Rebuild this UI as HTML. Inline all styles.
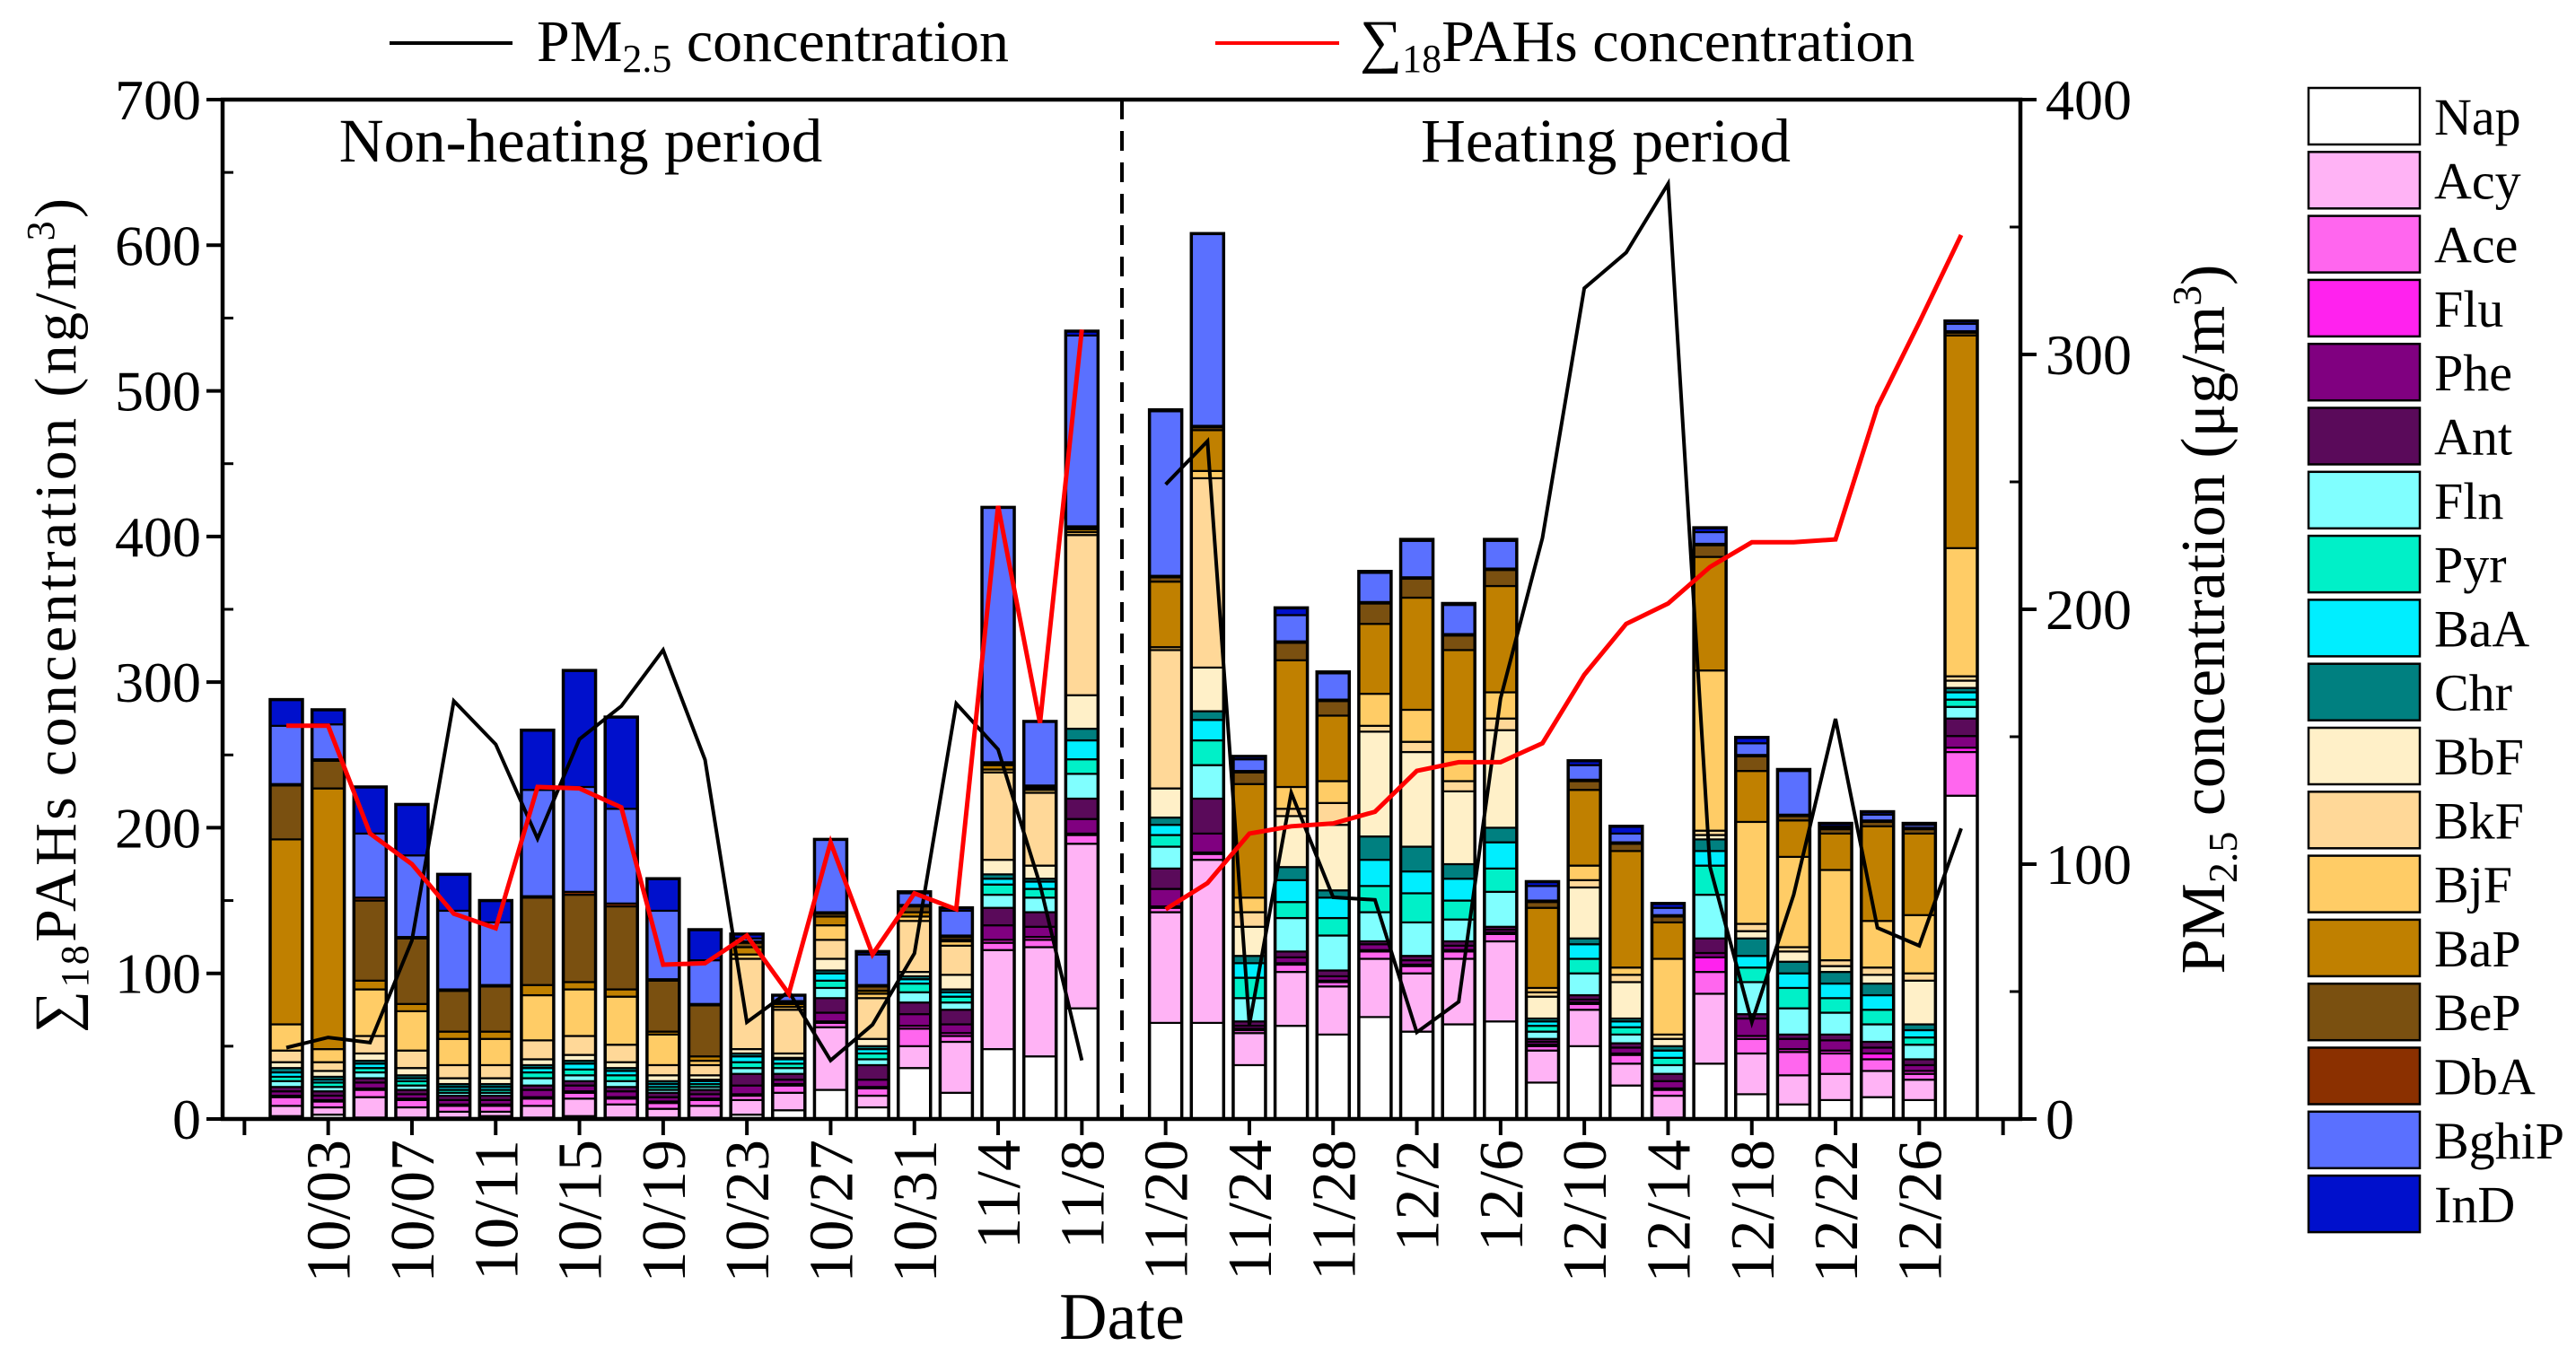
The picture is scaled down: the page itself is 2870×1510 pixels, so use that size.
<!DOCTYPE html>
<html><head><meta charset="utf-8"><style>
html,body{margin:0;padding:0;background:#fff}
svg{display:block}
text{font-family:"Liberation Serif",serif;fill:#000}
</style></head><body>
<svg id="chart" width="2870" height="1510" viewBox="0 0 2870 1510" xmlns="http://www.w3.org/2000/svg">
<g id="bars"></g>
<g id="lines"></g>
<g id="axes"></g>
<g id="legend"></g>
</svg>
<script>
const species=["Nap","Acy","Ace","Flu","Phe","Ant","Fln","Pyr","BaA","Chr","BbF","BkF","BjF","BaP","BeP","DbA","BghiP","InD"];
const speciesColors=["#ffffff","#ffb3f5","#ff66ee","#ff22ee","#800080","#5a0a5a","#80ffff","#00f0c8","#00eeff","#008080","#fff0c8","#ffd898","#ffcc66","#c08000","#7a5010","#8b3000","#5a70ff","#0010cc"];
const dateLabels=["10/03","10/07","10/11","10/15","10/19","10/23","10/27","10/31","11/4","11/8","11/20","11/24","11/28","12/2","12/6","12/10","12/14","12/18","12/22","12/26"];
const nonHeatingBars=[
[2,7,6,1,3,3,4,3,3,3,4,8,18,127,37,1,40,18],
[3,5,4,1,3,3,3,3,2,2,4,6,9,179,19,1,24,10],
[1,14,5,1,4,3,4,3,3,2,5,12,32,6,55,2,44,32],
[1,7,5,1,3,3,3,3,2,2,5,12,27,5,45,1,56,35],
[1,4,4,1,3,3,2,2,2,2,4,9,18,5,28,1,54,25],
[2,3,4,1,3,3,2,2,2,2,4,9,18,5,31,1,43,15],
[1,8,5,1,5,3,5,4,3,2,4,13,31,7,60,1,73,41],
[2,12,4,1,4,3,4,4,4,2,4,13,32,5,60,2,72,80],
[1,9,4,1,4,3,4,4,3,2,4,12,33,5,57,2,65,63],
[1,6,4,1,3,3,2,2,2,2,4,7,21,2,35,1,47,22],
[1,8,4,1,3,3,2,2,2,1,3,7,3,3,35,1,30,21],
[3,10,3,1,6,8,4,4,4,2,3,62,3,5,3,1,2,3],
[6,12,5,1,3,4,4,3,3,1,3,30,2,2,1,1,4,0],
[20,43,3,1,6,10,7,5,5,2,8,13,10,6,2,1,50,0],
[8,8,5,1,5,10,4,4,3,2,5,28,3,2,3,1,21,2],
[35,15,12,2,8,8,7,6,3,2,3,35,3,3,4,1,8,1],
[18,35,4,2,6,10,5,4,3,2,10,20,3,1,2,1,17,2],
[48,68,5,2,10,12,9,7,4,3,10,60,2,3,1,1,175,0],
[43,75,5,2,7,10,10,6,5,2,9,50,2,1,1,1,44,0],
[76,113,6,1,10,14,17,10,13,8,23,110,2,2,1,1,131,3]];
const heatingBars=[
[66,76,3,1,12,14,15,8,7,5,20,95,2,45,3,1,113,1],
[66,112,4,1,13,24,23,17,14,6,30,130,5,28,2,1,132,0],
[37,22,2,1,2,3,16,14,10,5,20,10,10,78,8,1,8,2],
[64,37,5,1,4,4,23,11,15,9,35,5,15,87,12,1,18,5],
[58,33,3,1,3,4,24,12,14,5,45,15,15,45,10,1,18,1],
[70,40,5,1,4,2,20,18,18,16,72,4,22,48,14,1,20,1],
[60,40,5,1,3,3,23,20,15,17,65,7,22,77,13,1,25,1],
[65,45,5,1,3,3,15,13,15,10,50,7,20,70,10,1,20,1],
[67,55,5,1,2,2,24,16,18,10,67,8,18,73,11,1,19,1],
[25,22,3,1,2,2,5,4,3,2,15,3,3,55,4,1,10,3],
[50,25,4,1,2,3,15,10,10,4,35,5,10,52,6,1,10,3],
[23,15,6,1,4,3,6,5,4,2,25,5,5,80,5,1,6,5],
[1,15,4,1,5,5,6,5,5,3,5,3,52,25,4,1,5,3],
[38,48,15,10,3,10,30,20,10,8,3,3,110,78,8,1,8,3],
[17,28,10,2,12,3,22,10,8,12,5,5,70,35,10,1,8,4],
[10,20,16,2,7,3,18,14,10,8,7,3,62,25,3,1,30,1],
[13,18,14,2,7,4,15,10,10,8,4,4,62,25,3,1,1,2],
[15,18,8,4,4,4,12,10,10,8,6,5,32,65,3,1,4,2],
[13,14,4,2,4,4,10,5,5,4,30,5,40,56,3,1,2,1],
[222,0,30,3,8,12,8,5,5,3,5,3,88,146,2,1,5,2]];
const pm25NonHeating=[28,32,30,70,164,147,110,149,162,184,141,38,50,23,37,65,163,145,92,23];
const pm25Heating=[249,266,37,128,87,86,34,46,165,228,326,340,367,99,38,88,157,75,68,114];
const pahsNonHeating=[270,270,196,175,141,131,228,227,214,106,107,126,86,190,113,155,144,421,272,542];
const pahsHeating=[144,162,196,201,203,211,239,245,245,258,305,340,354,379,396,396,398,489,547,607];
const leftTicks=[0,100,200,300,400,500,600,700];
const rightTicks=[0,100,200,300,400];

const NS="http://www.w3.org/2000/svg";
const X0=248,X1=2251,YT=111,YB=1247;
function xSlot(k){return 319+46.65*k;}
function yL(v){return YB-(v/700)*(YB-YT);}
function yR(v){return YB-(v/400)*(YB-YT);}
function mk(tag,attrs,parent){const e=document.createElementNS(NS,tag);for(const k in attrs)e.setAttribute(k,attrs[k]);parent.appendChild(e);return e;}

const gB=document.getElementById('bars');
const allBars=nonHeatingBars.map((b,i)=>({b,k:i})).concat(heatingBars.map((b,i)=>({b,k:21+i})));
const BW=36;
allBars.forEach((o,bi)=>{
  const g=mk('g',{},gB);
  
  
  let cum=0;const cx=xSlot(o.k);
  o.b.forEach((v,si)=>{
    if(v<=0)return;
    const y1=yL(cum),y2=yL(cum+v);
    const r=mk('rect',{x:cx-BW/2,y:y2,width:BW,height:y1-y2,fill:speciesColors[si],stroke:'#000','stroke-width':2.2},g);
    
    
    cum+=v;
  });
  const out=mk('rect',{x:cx-BW/2,y:yL(cum),width:BW,height:YB-yL(cum),fill:'none',stroke:'#000','stroke-width':3.5},g);
  
  
});

const gL=document.getElementById('lines');
function poly(vals,offset,yf,color,name){
  const pts=vals.map((v,i)=>xSlot(offset+i).toFixed(1)+','+yf(v).toFixed(1)).join(' ');
  const p=mk('polyline',{points:pts,fill:'none',stroke:color,'stroke-width':color==='#000'?4:5,'stroke-linejoin':'miter'},gL);
  
  
}
poly(pm25NonHeating,0,yR,'#000','pm25-line-nonheating');
poly(pm25Heating,21,yR,'#000','pm25-line-heating');
poly(pahsNonHeating,0,yL,'#ff0000','pahs-line-nonheating');
poly(pahsHeating,21,yL,'#ff0000','pahs-line-heating');

const gA=document.getElementById('axes');
const frame=mk('path',{d:`M${X0},${YT}H${X1}V${YB}H${X0}Z`,fill:'none',stroke:'#000','stroke-width':4.5},gA);


const dl=mk('line',{x1:1250,y1:YT,x2:1250,y2:YB,stroke:'#000','stroke-width':4,'stroke-dasharray':'22,13'},gA);


leftTicks.forEach(v=>{
  mk('line',{x1:X0-18,y1:yL(v),x2:X0,y2:yL(v),stroke:'#000','stroke-width':4},gA);
  if(v<700)mk('line',{x1:X0,y1:yL(v+50),x2:X0+12,y2:yL(v+50),stroke:'#000','stroke-width':3},gA);
  const t=mk('text',{x:X0-24,y:yL(v)+22,'text-anchor':'end','font-size':64},gA);
  t.textContent=v;
  
  
});
rightTicks.forEach(v=>{
  mk('line',{x1:X1,y1:yR(v),x2:X1+18,y2:yR(v),stroke:'#000','stroke-width':4},gA);
  if(v<400)mk('line',{x1:X1-12,y1:yR(v+50),x2:X1,y2:yR(v+50),stroke:'#000','stroke-width':3},gA);
  const t=mk('text',{x:X1+28,y:yR(v)+22,'text-anchor':'start','font-size':64},gA);
  t.textContent=v;
  
  
});
const tickSlots=[-1];for(let k=1;k<=19;k+=2)tickSlots.push(k);for(let k=21;k<=41;k+=2)tickSlots.push(k);
tickSlots.forEach(k=>mk('line',{x1:xSlot(k),y1:YB,x2:xSlot(k),y2:YB+18,stroke:'#000','stroke-width':4},gA));
const labelSlots=[1,3,5,7,9,11,13,15,17,19,21,23,25,27,29,31,33,35,37,39];
dateLabels.forEach((d,i)=>{
  const x=xSlot(labelSlots[i])+24,y=1270;
  const t=mk('text',{x:x,y:y,'text-anchor':'end','font-size':70,transform:`rotate(-90 ${x} ${y})`},gA);
  t.textContent=d;
  
  
});
</script>
<svg style="position:absolute;left:0;top:0" width="2870" height="1510">
<text x="1250" y="1492" text-anchor="middle" font-size="74">Date</text>
<text transform="translate(84,686) rotate(-90)" text-anchor="middle" font-size="66" textLength="930">∑<tspan font-size="44" dy="14">18</tspan><tspan dy="-14">PAHs concentration (ng/m</tspan><tspan font-size="44" dy="-24">3</tspan><tspan dy="24">)</tspan></text>
<text transform="translate(2478,690) rotate(-90)" text-anchor="middle" font-size="70">PM<tspan font-size="46" dy="14">2.5</tspan><tspan dy="-14"> concentration (μg/m</tspan><tspan font-size="46" dy="-26">3</tspan><tspan dy="26">)</tspan></text>
<text x="647" y="180" text-anchor="middle" font-size="69">Non-heating period</text>
<text x="1789" y="180" text-anchor="middle" font-size="69">Heating period</text>
<g>
<line x1="434" y1="48" x2="571" y2="48" stroke="#000" stroke-width="4"/>
<text x="598" y="68" font-size="66">PM<tspan font-size="44" dy="12">2.5</tspan><tspan dy="-12"> concentration</tspan></text>
<line x1="1354" y1="48" x2="1492" y2="48" stroke="#f00" stroke-width="4"/>
<text x="1515" y="68" font-size="66">∑<tspan font-size="44" dy="12">18</tspan><tspan dy="-12">PAHs concentration</tspan></text>
</g>
<g id="spLegend"></g>
</svg>
<script>
(function(){
  const g=document.getElementById('spLegend');
  const NS2="http://www.w3.org/2000/svg";
  species.forEach((s,i)=>{
    const y=98+i*71.3;
    const r=document.createElementNS(NS2,'rect');
    r.setAttribute('x',2572);r.setAttribute('y',y);r.setAttribute('width',124);r.setAttribute('height',63);
    r.setAttribute('fill',speciesColors[i]);r.setAttribute('stroke','#000');r.setAttribute('stroke-width',2.5);
    
    
    g.appendChild(r);
    const t=document.createElementNS(NS2,'text');
    t.setAttribute('x',2712);t.setAttribute('y',y+52);t.setAttribute('font-size',58);
    t.setAttribute('font-family','Liberation Serif, serif');
    t.textContent=s;
    
    
    g.appendChild(t);
  });
})();
</script>
</body></html>
